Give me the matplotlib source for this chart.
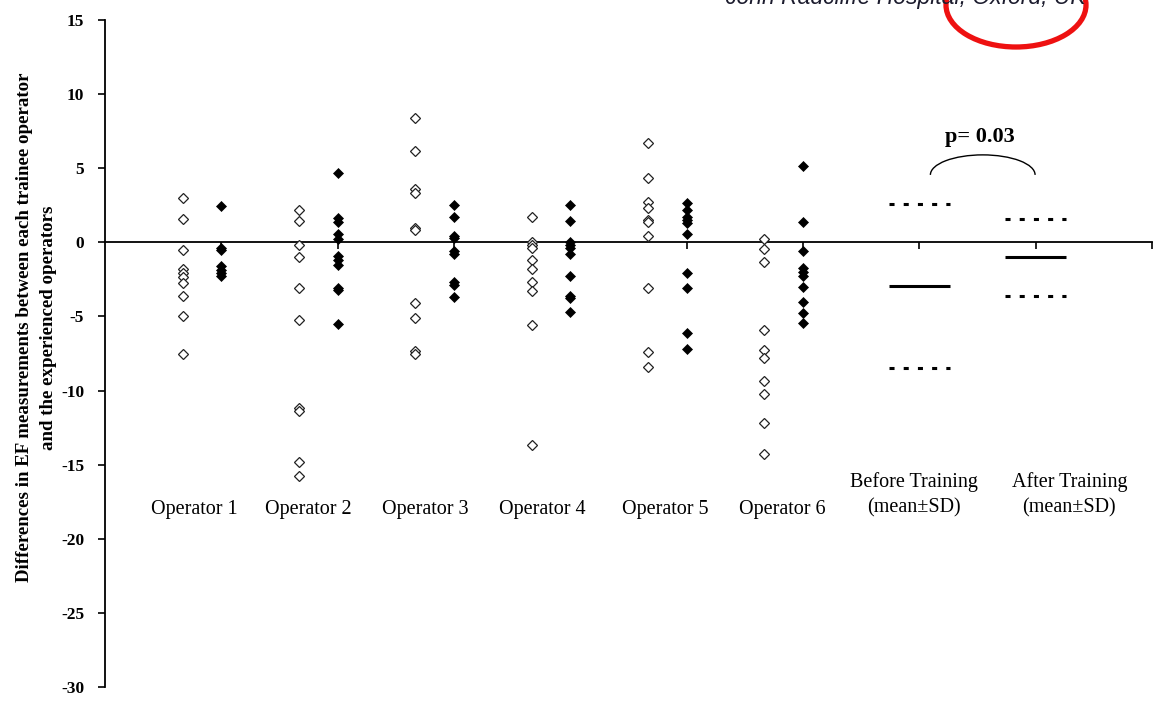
import matplotlib
matplotlib.use("Agg")
import matplotlib.pyplot as plt
from matplotlib.patches import Arc, Ellipse

# Differences in EF (trainee minus experienced operators), per operator
operators = ["Operator 1", "Operator 2", "Operator 3", "Operator 4", "Operator 5", "Operator 6"]

pre_1 = [3.0, 1.6, -0.5, -1.8, -2.05, -2.35, -2.75, -3.6, -5.0, -7.55]
post_1 = [2.45, -0.35, -0.5, -1.6, -1.85, -2.05, -2.25]

pre_2 = [2.2, 1.45, -0.15, -1.0, -3.1, -5.25, -11.15, -11.4, -14.85, -15.75]
post_2 = [4.7, 1.65, 1.35, 0.55, 0.25, -0.9, -1.2, -1.5, -3.05, -3.2, -5.5]

pre_3 = [8.4, 6.15, 3.6, 3.35, 1.0, 0.8, -4.1, -5.1, -7.35, -7.55]
post_3 = [2.55, 1.7, 0.45, 0.3, -0.6, -0.8, -2.65, -2.85, -3.7]

pre_4 = [1.7, 0.05, -0.15, -0.4, -1.2, -1.8, -2.7, -3.3, -5.6, -13.7]
post_4 = [2.5, 1.45, 0.05, -0.15, -0.4, -0.8, -2.3, -3.6, -3.75, -4.7]

pre_5 = [6.7, 4.35, 2.75, 2.3, 1.5, 1.4, 0.45, -3.1, -7.4, -8.4]
post_5 = [2.65, 2.2, 1.7, 1.5, 1.3, 0.55, -2.1, -3.1, -6.1, -7.2]

pre_6 = [0.2, -0.45, -1.3, -5.9, -7.25, -7.8, -9.35, -10.25, -12.2, -14.25]
post_6 = [5.15, 1.4, -0.6, -1.75, -2.0, -2.3, -3.0, -4.0, -4.8, -5.45]

summary_labels = ["Before Training\n(mean\u00b1SD)", "After Training\n(mean\u00b1SD)"]
summary_mean = [-2.95, -1.0]
summary_sd = [5.55, 2.6]
p_label = "p= 0.03"

yticks = [15, 10, 5, 0, -5, -10, -15, -20, -25, -30]
ylabel = ("Differences in EF measurements between each trainee operator\n"
          "and the experienced operators")
header = "John Radcliffe Hospital, Oxford, UK"

pre_sets = [pre_1, pre_2, pre_3, pre_4, pre_5, pre_6]
post_sets = [post_1, post_2, post_3, post_4, post_5, post_6]

SERIF = ["Liberation Serif", "DejaVu Serif"]

fig = plt.figure(figsize=(11.54, 7.06), dpi=100)
ax = fig.add_axes([105 / 1154, 19 / 706, 1047 / 1154, 667 / 706])
ax.set_xlim(0, 9)
ax.set_ylim(-30, 15)

# operator scatter: open = before training, filled = after training
for k, (pre, post) in enumerate(zip(pre_sets, post_sets), start=1):
    ax.plot([k - 1 / 3] * len(pre), pre, linestyle="none", marker="D",
            markersize=5, markerfacecolor="white", markeredgecolor="#222222",
            markeredgewidth=0.9, zorder=3)
    ax.plot([k] * len(post), post, linestyle="none", marker="D",
            markersize=5.5, markerfacecolor="black", markeredgecolor="black",
            markeredgewidth=0.5, zorder=3)

# mean (solid) and mean +/- SD (dotted) bars for the two summary columns
half = 0.26
for j, (m, s) in enumerate(zip(summary_mean, summary_sd)):
    xc = 7 + j
    ax.plot([xc - half, xc + half], [m, m], color="black", lw=2.2,
            solid_capstyle="butt", zorder=3)
    for v in (m + s, m - s):
        ax.plot([xc - half, xc + half], [v, v], color="black", lw=2.2,
                linestyle=(0, (1.65, 3.0)), dash_capstyle="butt", zorder=3)

# significance bracket
ax.add_patch(Arc((7.545, 4.55), 0.9, 2.7, theta1=0, theta2=180,
                 color="black", lw=1.0, zorder=3))
ax.text(7.52, 7.1, p_label, ha="center", va="center", fontsize=16,
        fontweight="bold", family=SERIF)

# category labels inside the plotting area
label_x = [0.77, 1.75, 2.75, 3.76, 4.82, 5.82]
for x, name in zip(label_x, operators):
    ax.text(x, -18.05, name, ha="center", va="center", fontsize=14.5,
            family=SERIF)
for x, name in zip([6.95, 8.29], summary_labels):
    ax.text(x, -17.05, name, ha="center", va="center", fontsize=14.5,
            family=SERIF, linespacing=1.45, multialignment="center")

# axes styling
for side in ("top", "right"):
    ax.spines[side].set_visible(False)
ax.spines["bottom"].set_position(("data", 0))
ax.spines["bottom"].set_linewidth(1.3)
ax.spines["left"].set_linewidth(1.3)
ax.set_xticks(range(1, 10))
ax.set_xticklabels([])
ax.tick_params(axis="x", direction="out", length=5, width=1.2)
ax.set_yticks(yticks)
ax.set_yticklabels([str(t) for t in yticks])
ax.tick_params(axis="y", direction="out", length=5, width=1.2, pad=10)
for lbl in ax.get_yticklabels():
    lbl.set_fontfamily(SERIF)
    lbl.set_fontweight("bold")
    lbl.set_fontsize(12.5)

ax.set_ylabel(ylabel, fontsize=13.6, fontweight="bold", family=SERIF,
              linespacing=1.5)
ax.yaxis.set_label_coords(-0.0463, 0.539)

# header line and its red highlight
fig.text(725 / 1154, 1 - 4 / 706, header, ha="left", va="baseline",
         fontsize=16.5, style="italic", color="#1c1c2e",
         family=["Liberation Sans", "DejaVu Sans"])
fig.patches.append(Ellipse((10.16, 7.01), 1.40, 0.84, fill=False,
                           edgecolor="#ee1111", lw=3.8,
                           transform=fig.dpi_scale_trans, figure=fig))

fig.savefig("out.png", dpi=100)
